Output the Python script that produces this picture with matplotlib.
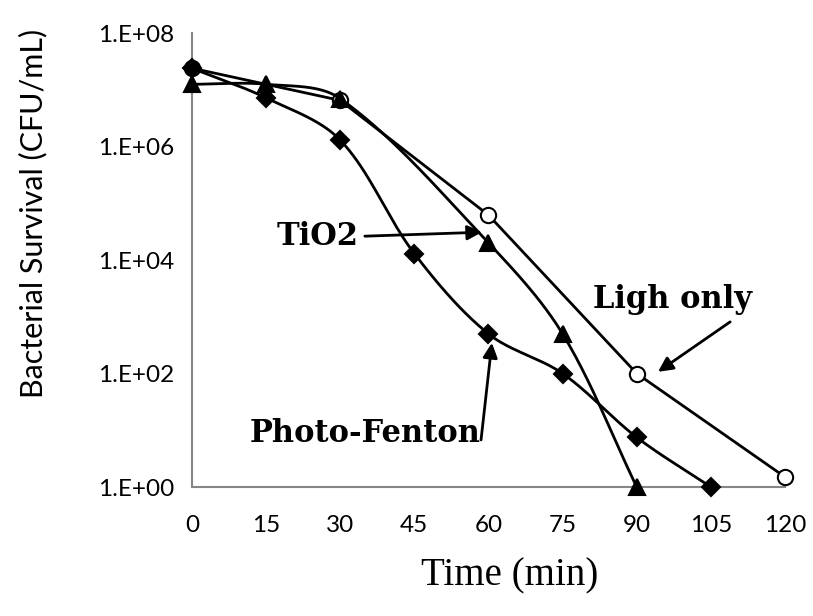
import numpy as np
import matplotlib
matplotlib.use("Agg")
import matplotlib.pyplot as plt
from matplotlib.ticker import FixedLocator, FuncFormatter

# data
time_light = [0, 30, 60, 90, 120]
light_only = [2.4e7, 6.5e6, 6.2e4, 1.0e2, 1.5]

time_tio2 = [0, 15, 30, 60, 75, 90]
tio2 = [1.25e7, 1.25e7, 7.0e6, 2.0e4, 5.0e2, 1.0]

time_pf = [0, 15, 30, 45, 60, 75, 90, 105]
photo_fenton = [2.4e7, 7.2e6, 1.3e6, 1.3e4, 5.0e2, 1.0e2, 7.5, 1.0]

x_ticks = [0, 15, 30, 45, 60, 75, 90, 105, 120]
y_ticks = [1, 1e2, 1e4, 1e6, 1e8]

# rough screen scale (px per minute, px per decade) so smoothing looks like Excel's
SX, SY = 4.94, 56.75


def smooth(xs, ys, n=40):
    x = np.asarray(xs, float) * SX
    y = np.log10(np.asarray(ys, float)) * SY
    P = np.column_stack([x, y])
    P = np.vstack([P[:1], P, P[-1:]])
    outx, outy = [], []
    t = np.linspace(0, 1, n)[:, None]
    for i in range(1, len(P) - 2):
        p0, p1, p2, p3 = P[i - 1], P[i], P[i + 1], P[i + 2]
        d01 = np.hypot(*(p1 - p0))
        d12 = np.hypot(*(p2 - p1))
        d23 = np.hypot(*(p3 - p2))
        c1 = p1 + (p2 - p0) * d12 / (d01 + d12) / 3
        c2 = p2 - (p3 - p1) * d12 / (d12 + d23) / 3
        b = (1 - t) ** 3 * p1 + 3 * (1 - t) ** 2 * t * c1 + 3 * (1 - t) * t ** 2 * c2 + t ** 3 * p2
        outx.extend(b[:, 0])
        outy.extend(b[:, 1])
    return np.array(outx) / SX, 10 ** (np.array(outy) / SY)


fig = plt.figure(figsize=(8.13, 6.16), dpi=100)
ax = fig.add_axes([0.236, 0.2094, 0.7296, 0.737])

lw = 2.0
# light only: straight segments
ax.plot(time_light, light_only, color='black', lw=lw, marker='o', ms=11, mfc='white',
        mec='black', mew=1.5, clip_on=False, zorder=3)
for xs, ys, mk, ms in [(time_pf, photo_fenton, 'D', 9.5), (time_tio2, tio2, '^', 11)]:
    sx, sy = smooth(xs, ys)
    ax.plot(sx, sy, color='black', lw=lw, clip_on=False, zorder=3)
    ax.plot(xs, ys, linestyle='none', marker=mk, ms=ms, mfc='black', mec='black',
            mew=1.5, clip_on=False, zorder=4)

ax.set_yscale('log')
ax.set_ylim(1, 1e8)
ax.set_xlim(0, 120)
ax.yaxis.set_major_locator(FixedLocator(y_ticks))
ax.yaxis.set_minor_locator(FixedLocator([]))
ax.yaxis.set_major_formatter(FuncFormatter(lambda v, p: "1.E+%02d" % round(np.log10(v))))
ax.set_xticks(x_ticks)
ax.set_xticklabels([str(v) for v in x_ticks])

for s in ['top', 'right']:
    ax.spines[s].set_visible(False)
for s in ['left', 'bottom']:
    ax.spines[s].set_color('#868686')
    ax.spines[s].set_linewidth(1.5)
ax.tick_params(length=0, labelsize=17.5)
ax.tick_params(axis='y', pad=13)
ax.tick_params(axis='x', pad=20)
for lab in ax.get_xticklabels() + ax.get_yticklabels():
    lab.set_family('Lato')

ax.set_xlabel('Time (min)', family='Liberation Serif', fontsize=28)
ax.xaxis.set_label_coords(0.535, -0.156)
ax.set_ylabel('Bacterial Survival (CFU/mL)', family='Lato', fontsize=22)
ax.yaxis.set_label_coords(-0.243, 0.603)

bold = dict(family='DejaVu Serif', fontweight='bold', fontsize=22,
            ha='center', va='center')
arrow = dict(arrowstyle='-|>', color='black', lw=2, mutation_scale=22,
             shrinkA=0, shrinkB=0)

ax.text(25.5, 10 ** 4.41, 'TiO2', **bold)
ax.annotate('', xy=(58.7, 10 ** 4.49), xytext=(35.0, 10 ** 4.42), arrowprops=arrow)

ax.text(97.3, 10 ** 3.30, 'Ligh only', **bold)
ax.annotate('', xy=(94.3, 10 ** 2.03), xytext=(108.9, 10 ** 2.91), arrowprops=arrow)

ax.text(35.0, 10 ** 0.95, 'Photo-Fenton', **bold)
ax.annotate('', xy=(60.7, 10 ** 2.54), xytext=(58.5, 10 ** 0.83), arrowprops=arrow)

fig.savefig('out.png', dpi=100)
